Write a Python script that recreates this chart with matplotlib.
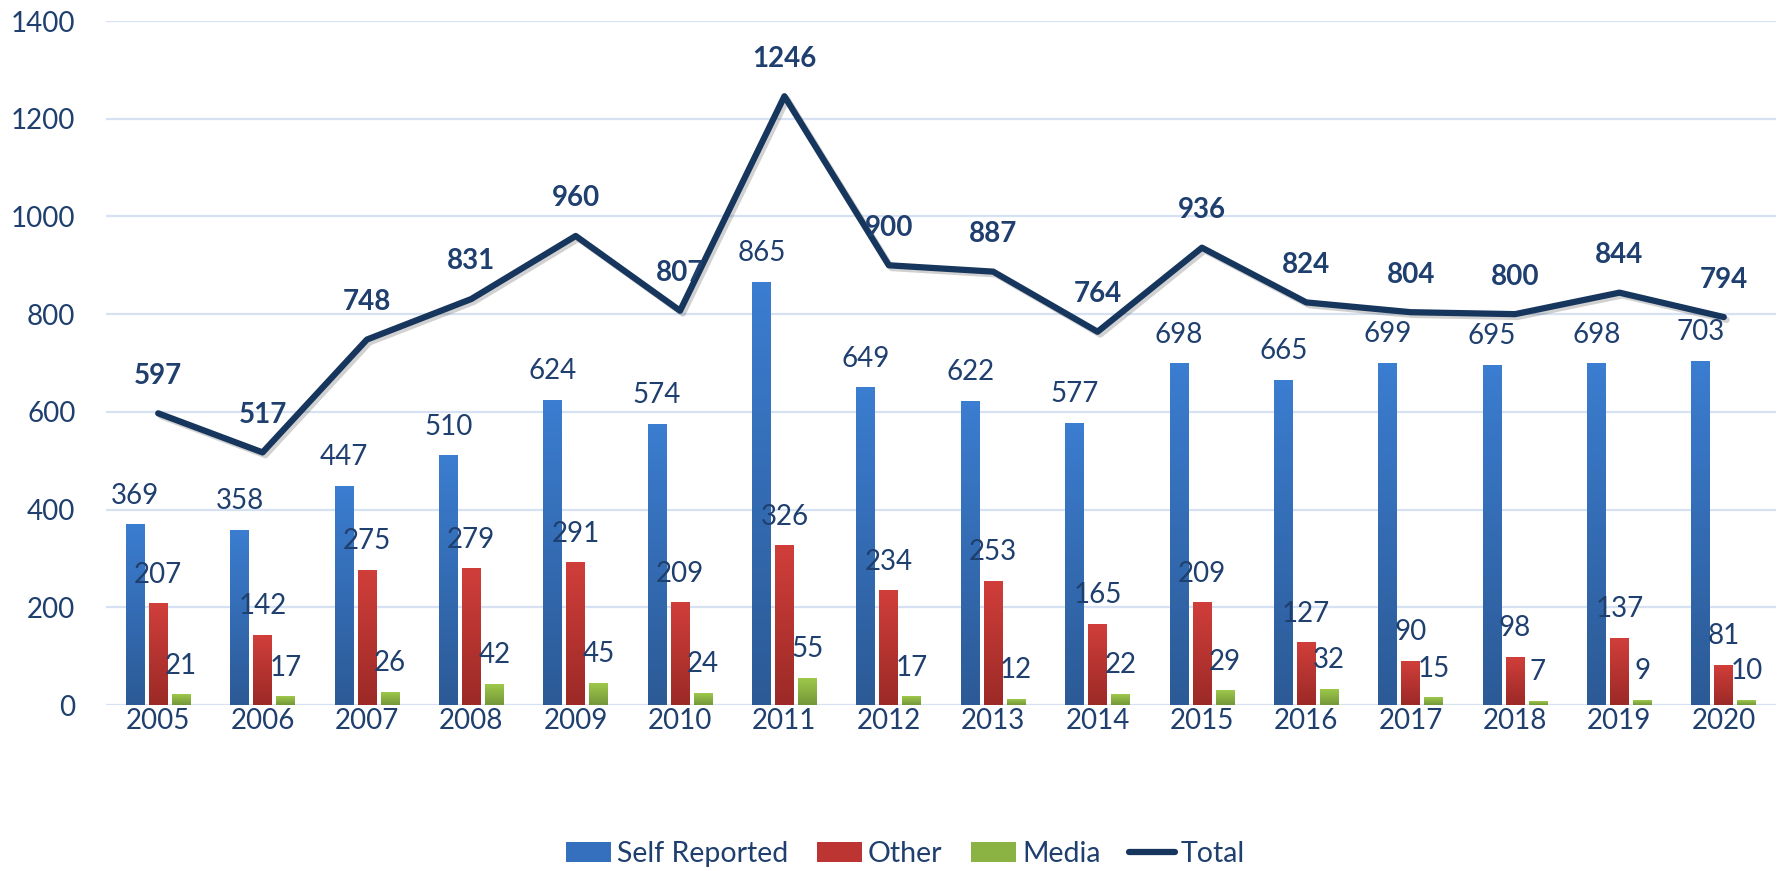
import numpy as np
import matplotlib
matplotlib.use('Agg')
import matplotlib.pyplot as plt
import matplotlib.patheffects as pe
from matplotlib.colors import LinearSegmentedColormap
from matplotlib.patches import Patch
from matplotlib.lines import Line2D

years = ['2005', '2006', '2007', '2008', '2009', '2010', '2011', '2012',
         '2013', '2014', '2015', '2016', '2017', '2018', '2019', '2020']
self_reported = [369, 358, 447, 510, 624, 574, 865, 649, 622, 577, 698, 665, 699, 695, 698, 703]
other = [207, 142, 275, 279, 291, 209, 326, 234, 253, 165, 209, 127, 90, 98, 137, 81]
media = [21, 17, 26, 42, 45, 24, 55, 17, 12, 22, 29, 32, 15, 7, 9, 10]
total = [597, 517, 748, 831, 960, 807, 1246, 900, 887, 764, 936, 824, 804, 800, 844, 794]

txt = '#1F3F6E'
line_col = '#17365D'
grid_col = '#D6E2F3'
plt.rcParams['font.family'] = ['Lato', 'DejaVu Sans']

fig = plt.figure(figsize=(17.81, 8.71), dpi=100)
ax = fig.add_axes([106/1781, 1 - 705/871, 1670/1781, (705 - 21)/871])

x = np.arange(len(years))
w = 0.18
off = 0.22
series = [
    (self_reported, -off, ('#2C5A96', '#3B7DD0')),  # bottom colour, top colour
    (other, 0.0, ('#9C2A27', '#D03E3A')),
    (media, off, ('#74973A', '#9DC84A')),
]

grad = np.linspace(1, 0, 64).reshape(-1, 1)
for vals, dx, (bot, top) in series:
    cmap = LinearSegmentedColormap.from_list('g', [bot, top])
    for xi, v in zip(x, vals):
        ax.imshow(grad, cmap=cmap, extent=[xi + dx - w/2, xi + dx + w/2, 0, v],
                  aspect='auto', zorder=2, vmin=0, vmax=1)
        ax.annotate(str(v), (xi + dx, v), xytext=(0, 21), textcoords='offset points',
                    ha='center', va='center', fontsize=20, color=txt, zorder=6)

# total line with a soft shadow
ax.plot(x, total, color=line_col, lw=4.5, zorder=4, solid_capstyle='round',
        path_effects=[pe.SimpleLineShadow(offset=(2, -2), alpha=0.18), pe.Normal()])
for xi, v in zip(x, total):
    ax.annotate(str(v), (xi, v), xytext=(0, 27), textcoords='offset points',
                ha='center', va='center', fontsize=20, fontweight='bold', color=txt, zorder=7)

ax.set_xlim(-0.5, len(years) - 0.5)
ax.set_ylim(0, 1400)
ax.set_yticks(range(0, 1401, 200))
ax.set_xticks(x)
ax.set_xticklabels(years)
ax.tick_params(axis='both', length=0, labelsize=20, labelcolor=txt)
ax.tick_params(axis='y', pad=22)
ax.tick_params(axis='x', pad=2)
for s in ax.spines.values():
    s.set_visible(False)
ax.yaxis.grid(True, color=grid_col, lw=1.6)
ax.set_axisbelow(True)

handles = [Patch(facecolor='#3470BE'), Patch(facecolor='#BD3532'), Patch(facecolor='#8AB343'),
           Line2D([], [], color=line_col, lw=4.5, solid_capstyle='round')]
fig.legend(handles, ['Self Reported', 'Other', 'Media', 'Total'], ncol=4, frameon=False,
           fontsize=20.5, labelcolor=txt, handlelength=1.6, handleheight=0.65,
           handletextpad=0.2, columnspacing=1.0, loc='center',
           bbox_to_anchor=(905/1781, 1 - 854/871))

fig.savefig('out.png', dpi=100)
